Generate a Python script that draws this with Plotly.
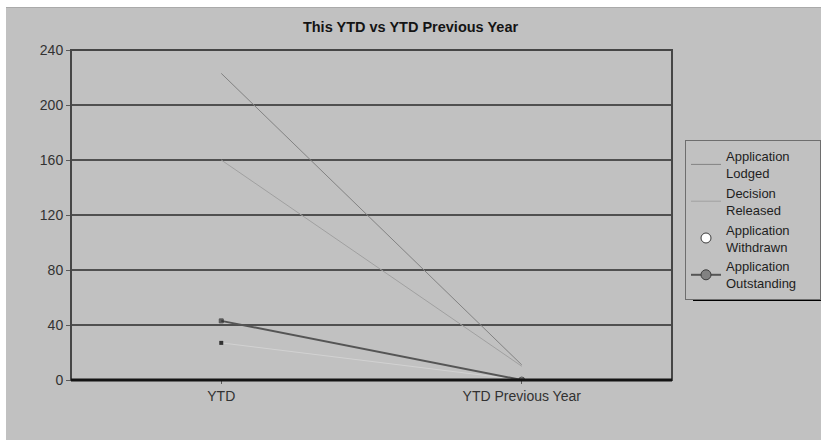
import plotly.graph_objects as go

# Categories and series values
categories = ["YTD", "YTD Previous Year"]
app_lodged = [223, 11]
decision_released = [160, 10]
app_withdrawn = [27, 0]
app_outstanding = [43, 0]

y_ticks = [0, 40, 80, 120, 160, 200, 240]

BG = "rgb(193,193,193)"
FONT = "Liberation Sans, Arial, sans-serif"

fig = go.Figure()

# Data traces
fig.add_trace(go.Scatter(
    x=categories, y=app_lodged, mode="lines",
    line=dict(color="rgb(130,130,130)", width=1), showlegend=False))
fig.add_trace(go.Scatter(
    x=categories, y=decision_released, mode="lines",
    line=dict(color="rgb(160,160,160)", width=1), showlegend=False))
fig.add_trace(go.Scatter(
    x=categories, y=app_withdrawn, mode="lines+markers",
    line=dict(color="rgb(210,210,210)", width=1),
    marker=dict(symbol="square", size=4, color="rgb(50,50,50)"),
    showlegend=False))
fig.add_trace(go.Scatter(
    x=categories, y=app_outstanding, mode="lines+markers",
    line=dict(color="rgb(85,85,85)", width=2),
    marker=dict(symbol=["square", "circle"], size=[4, 6],
                color=["rgb(50,50,50)", "rgb(130,130,130)"],
                line=dict(color="rgb(40,40,40)", width=1)),
    showlegend=False))

# Legend entries (trailing non-breaking spaces widen the legend box)
legend_items = [
    ("Application<br>Lodged", "lines", dict(color="rgb(130,130,130)", width=1), None),
    ("Decision<br>Released", "lines", dict(color="rgb(160,160,160)", width=1), None),
    ("Application<br>Withdrawn", "markers", None,
     dict(symbol="circle", size=10, color="white", line=dict(color="rgb(60,60,60)", width=1))),
    ("Application<br>Outstanding&nbsp;&nbsp;&nbsp;&nbsp;&nbsp;", "lines+markers",
     dict(color="rgb(85,85,85)", width=2),
     dict(symbol="circle", size=10, color="rgb(130,130,130)", line=dict(color="rgb(60,60,60)", width=1))),
]
for name, mode, line, marker in legend_items:
    kw = dict(x=[None], y=[None], mode=mode, name=name, showlegend=True)
    if line:
        kw["line"] = line
    if marker:
        kw["marker"] = marker
    fig.add_trace(go.Scatter(**kw))

# Plot area pixel geometry
W, H = 821, 440
L, R, T, B = 71, 672, 50, 380
pw, ph = R - L, B - T


def px(x):
    return (x - L) / pw


def py(y):
    return (B - y) / ph


# legend box edges (pixels) used for the drop shadow
LEG_L, LEG_T, LEG_R, LEG_B = 685, 140, 821, 298

shapes = [
    # white strips at top and left edge of the image
    dict(type="rect", xref="paper", yref="paper", x0=px(0), x1=px(W), y0=py(0), y1=py(7),
         fillcolor="white", line=dict(width=0), layer="below"),
    dict(type="rect", xref="paper", yref="paper", x0=px(0), x1=px(6), y0=py(0), y1=py(H),
         fillcolor="white", line=dict(width=0), layer="below"),
    dict(type="line", xref="paper", yref="paper", x0=px(6), x1=px(W), y0=py(7.5), y1=py(7.5),
         line=dict(color="rgb(170,170,170)", width=1), layer="below"),
    # legend drop shadow
    dict(type="rect", xref="paper", yref="paper", x0=px(LEG_L + 8), x1=px(LEG_R),
         y0=py(LEG_B + 3), y1=py(LEG_T + 8),
         fillcolor="black", line=dict(width=0), layer="below"),
    # plot frame
    dict(type="rect", xref="paper", yref="paper", x0=0, x1=1, y0=0, y1=1,
         line=dict(color="rgb(70,70,70)", width=2), layer="above"),
    dict(type="line", xref="paper", yref="paper", x0=0, x1=1, y0=0, y1=0,
         line=dict(color="rgb(20,20,20)", width=3), layer="above"),
]

fig.update_layout(
    width=W, height=H,
    margin=dict(l=L, r=W - R, t=T, b=H - B, autoexpand=False),
    paper_bgcolor=BG, plot_bgcolor=BG,
    font=dict(family=FONT, color="rgb(50,50,50)", size=14),
    title=dict(text="<b>This YTD vs YTD Previous Year</b>", x=0.5, xref="container",
               xanchor="center", y=1 - 27 / H, yref="container", yanchor="middle",
               font=dict(family=FONT, size=14.5, color="rgb(20,20,20)")),
    xaxis=dict(type="category", range=[-0.5, 1.5], showgrid=False, zeroline=False,
               ticks="outside", ticklen=3, tickcolor="rgb(90,90,90)", showline=False,
               tickfont=dict(size=14, color="rgb(50,50,50)")),
    yaxis=dict(range=[0, 240], tickvals=y_ticks, showgrid=True,
               gridcolor="rgb(80,80,80)", gridwidth=2, zeroline=False,
               ticks="outside", ticklen=4, tickcolor="rgb(90,90,90)", showline=False,
               tickfont=dict(size=14, color="rgb(50,50,50)")),
    legend=dict(x=px(LEG_L), y=py(LEG_T), xanchor="left", yanchor="top",
                bgcolor=BG, bordercolor="rgb(110,110,110)", borderwidth=1,
                font=dict(family=FONT, size=13, color="rgb(30,30,30)"),
                itemwidth=30, tracegroupgap=0),
    shapes=shapes,
)

fig.write_html("out.html")
